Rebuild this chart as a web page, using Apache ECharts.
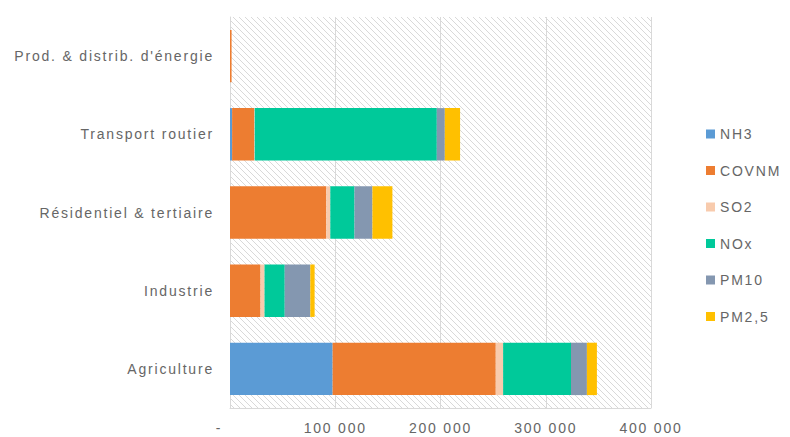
<!DOCTYPE html>
<html><head><meta charset="utf-8">
<script src="https://cdn.jsdelivr.net/npm/echarts@6/dist/echarts.min.js"></script>
<style>html,body{margin:0;padding:0;background:#fff}#c{width:790px;height:437px}
#c svg text{letter-spacing:1.8px}</style>
</head><body><div id="c"></div>
<script>
const categories = ["Agriculture", "Industrie", "Résidentiel & tertiaire", "Transport routier", "Prod. & distrib. d'énergie"];
const NH3   = [97500, 0, 0, 2000, 0];
const COVNM = [155000, 29000, 91500, 21000, 1500];
const SO2   = [7000, 3800, 3800, 500, 0];
const NOx   = [64500, 19200, 23000, 173000, 0];
const PM10  = [15100, 24300, 17000, 7600, 0];
const PM25  = [9500, 4100, 19000, 14500, 0];
const xTicks = ["-", "100 000", "200 000", "300 000", "400 000"];

const seriesNames = ["NH3", "COVNM", "SO2", "NOx", "PM10", "PM2,5"];
const seriesData = [NH3, COVNM, SO2, NOx, PM10, PM25];
const colors = ["#5b9bd5", "#ed7d31", "#f8cbad", "#00c99a", "#8497b0", "#ffc000"];

// hatch pattern
const pc = document.createElement('canvas');
pc.width = 6; pc.height = 6;
const g = pc.getContext('2d');
g.fillStyle = '#ffffff'; g.fillRect(0,0,6,6);
g.strokeStyle = '#d9d9d9'; g.lineWidth = 1;
g.beginPath();
g.moveTo(0,0); g.lineTo(6,6);
g.moveTo(-3,3); g.lineTo(3,9);
g.moveTo(3,-3); g.lineTo(9,3);
g.stroke();

const FONT = 'Liberation Sans';
const TXT = '#666666';
const chart = echarts.init(document.getElementById('c'), null, {renderer: 'svg'});
chart.setOption({
  animation: false,
  color: colors,
  grid: {left: 230, right: 139, top: 17, bottom: 29, show: true,
         backgroundColor: {image: pc, repeat: 'repeat', imageWidth: 6, imageHeight: 6}, borderWidth: 0},
  legend: {
    orient: 'vertical', left: 701, top: 122, itemWidth: 9, itemHeight: 9, itemGap: 22.5,
    icon: 'rect',
    textStyle: {color: TXT, fontSize: 14, fontFamily: FONT},
    data: seriesNames
  },
  xAxis: {
    type: 'value', min: 0, max: 400000, interval: 100000,
    axisLine: {show: true, lineStyle: {color: '#d9d9d9'}},
    axisTick: {show: false},
    splitLine: {show: true, lineStyle: {color: '#d9d9d9'}},
    axisLabel: {color: TXT, fontSize: 14, fontFamily: FONT, margin: 13,
      formatter: (v) => v === 0 ? '{d|' + xTicks[0] + '}' : xTicks[Math.round(v / 100000)],
      rich: {d: {color: TXT, fontSize: 14, fontFamily: FONT, padding: [0, 22, 0, 0]}}}
  },
  yAxis: {
    type: 'category', data: categories,
    axisLine: {show: true, lineStyle: {color: '#d9d9d9'}},
    axisTick: {show: false},
    axisLabel: {color: TXT, fontSize: 14, fontFamily: FONT, margin: 16}
  },
  series: seriesNames.map((n, i) => ({
    name: n, type: 'bar', stack: 'total', data: seriesData[i],
    barCategoryGap: '33%'
  }))
});
</script></body></html>
